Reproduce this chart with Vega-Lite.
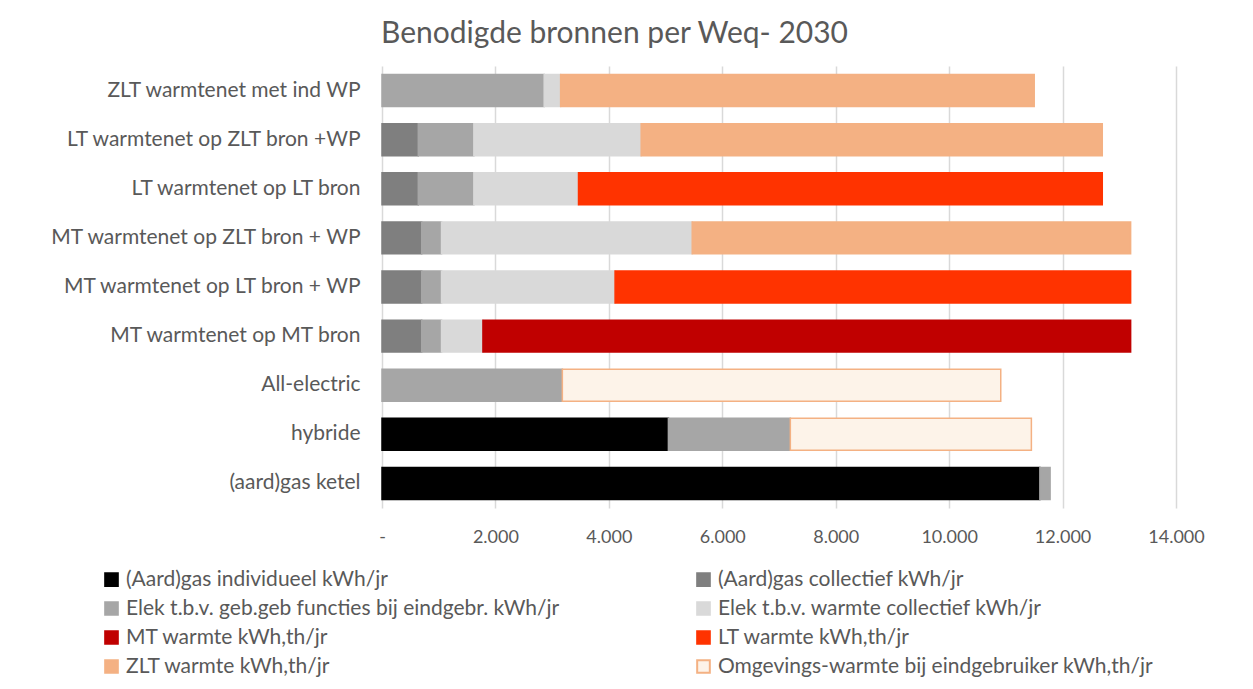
{
  "$schema": "https://vega.github.io/schema/vega-lite/v6.json",
  "autosize": {"type": "none"},
  "padding": {"left": 382, "top": 66, "right": 77, "bottom": 181},
  "width": 794,
  "height": 442,
  "background": "white",
  "title": {
    "text": "Benodigde bronnen per Weq- 2030",
    "frame": "bounds",
    "anchor": "middle",
    "fontSize": 30,
    "font": "Lato",
    "fontWeight": "normal",
    "color": "#595959",
    "offset": 17,
    "dx": -12
  },
  "data": {
    "values": [
      {"variant": "ZLT warmtenet met ind WP", "bron": "Elek t.b.v. geb.geb functies bij eindgebr. kWh/jr", "kwh": 2860},
      {"variant": "ZLT warmtenet met ind WP", "bron": "Elek t.b.v. warmte collectief kWh/jr", "kwh": 290},
      {"variant": "ZLT warmtenet met ind WP", "bron": "ZLT warmte kWh,th/jr", "kwh": 8350},
      {"variant": "LT warmtenet op ZLT bron +WP", "bron": "(Aard)gas collectief kWh/jr", "kwh": 640},
      {"variant": "LT warmtenet op ZLT bron +WP", "bron": "Elek t.b.v. geb.geb functies bij eindgebr. kWh/jr", "kwh": 980},
      {"variant": "LT warmtenet op ZLT bron +WP", "bron": "Elek t.b.v. warmte collectief kWh/jr", "kwh": 2950},
      {"variant": "LT warmtenet op ZLT bron +WP", "bron": "ZLT warmte kWh,th/jr", "kwh": 8130},
      {"variant": "LT warmtenet op LT bron", "bron": "(Aard)gas collectief kWh/jr", "kwh": 640},
      {"variant": "LT warmtenet op LT bron", "bron": "Elek t.b.v. geb.geb functies bij eindgebr. kWh/jr", "kwh": 980},
      {"variant": "LT warmtenet op LT bron", "bron": "Elek t.b.v. warmte collectief kWh/jr", "kwh": 1845},
      {"variant": "LT warmtenet op LT bron", "bron": "LT warmte kWh,th/jr", "kwh": 9235},
      {"variant": "MT warmtenet op ZLT bron + WP", "bron": "(Aard)gas collectief kWh/jr", "kwh": 700},
      {"variant": "MT warmtenet op ZLT bron + WP", "bron": "Elek t.b.v. geb.geb functies bij eindgebr. kWh/jr", "kwh": 350},
      {"variant": "MT warmtenet op ZLT bron + WP", "bron": "Elek t.b.v. warmte collectief kWh/jr", "kwh": 4420},
      {"variant": "MT warmtenet op ZLT bron + WP", "bron": "ZLT warmte kWh,th/jr", "kwh": 7730},
      {"variant": "MT warmtenet op LT bron + WP", "bron": "(Aard)gas collectief kWh/jr", "kwh": 700},
      {"variant": "MT warmtenet op LT bron + WP", "bron": "Elek t.b.v. geb.geb functies bij eindgebr. kWh/jr", "kwh": 350},
      {"variant": "MT warmtenet op LT bron + WP", "bron": "Elek t.b.v. warmte collectief kWh/jr", "kwh": 3060},
      {"variant": "MT warmtenet op LT bron + WP", "bron": "LT warmte kWh,th/jr", "kwh": 9090},
      {"variant": "MT warmtenet op MT bron", "bron": "(Aard)gas collectief kWh/jr", "kwh": 700},
      {"variant": "MT warmtenet op MT bron", "bron": "Elek t.b.v. geb.geb functies bij eindgebr. kWh/jr", "kwh": 350},
      {"variant": "MT warmtenet op MT bron", "bron": "Elek t.b.v. warmte collectief kWh/jr", "kwh": 730},
      {"variant": "MT warmtenet op MT bron", "bron": "MT warmte kWh,th/jr", "kwh": 11420},
      {"variant": "All-electric", "bron": "Elek t.b.v. geb.geb functies bij eindgebr. kWh/jr", "kwh": 3180},
      {"variant": "All-electric", "bron": "Omgevings-warmte bij eindgebruiker kWh,th/jr", "kwh": 7730},
      {"variant": "hybride", "bron": "(Aard)gas individueel kWh/jr", "kwh": 5050},
      {"variant": "hybride", "bron": "Elek t.b.v. geb.geb functies bij eindgebr. kWh/jr", "kwh": 2150},
      {"variant": "hybride", "bron": "Omgevings-warmte bij eindgebruiker kWh,th/jr", "kwh": 4250},
      {"variant": "(aard)gas ketel", "bron": "(Aard)gas individueel kWh/jr", "kwh": 11600},
      {"variant": "(aard)gas ketel", "bron": "Elek t.b.v. geb.geb functies bij eindgebr. kWh/jr", "kwh": 180}
    ]
  },
  "mark": {"type": "bar", "strokeWidth": 1.5},
  "encoding": {
    "y": {
      "field": "variant",
      "type": "nominal",
      "sort": ["ZLT warmtenet met ind WP", "LT warmtenet op ZLT bron +WP", "LT warmtenet op LT bron", "MT warmtenet op ZLT bron + WP", "MT warmtenet op LT bron + WP", "MT warmtenet op MT bron", "All-electric", "hybride", "(aard)gas ketel"],
      "scale": {"paddingInner": 0.35, "paddingOuter": 0.175},
      "axis": {
        "title": null,
        "domain": false,
        "ticks": false,
        "labelFont": "Lato",
        "labelFontSize": 21,
        "labelColor": "#595959",
        "labelPadding": 22,
        "labelLimit": 400
      }
    },
    "x": {
      "field": "kwh",
      "type": "quantitative",
      "stack": "zero",
      "scale": {"domain": [0, 14000], "nice": false},
      "axis": {
        "title": null,
        "values": [0, 2000, 4000, 6000, 8000, 10000, 12000, 14000],
        "labelExpr": "datum.value == 0 ? '-' : replace(format(datum.value, ','), ',', '.')",
        "labelFlush": false,
        "labelOverlap": false,
        "domain": false,
        "ticks": false,
        "grid": true,
        "gridColor": "#d9d9d9",
        "gridWidth": 1.5,
        "labelFont": "Lato",
        "labelFontSize": 18,
        "labelColor": "#595959",
        "labelPadding": 20
      }
    },
    "fill": {
      "field": "bron",
      "type": "nominal",
      "scale": {
        "domain": ["(Aard)gas individueel kWh/jr", "(Aard)gas collectief kWh/jr", "Elek t.b.v. geb.geb functies bij eindgebr. kWh/jr", "Elek t.b.v. warmte collectief kWh/jr", "MT warmte kWh,th/jr", "LT warmte kWh,th/jr", "ZLT warmte kWh,th/jr", "Omgevings-warmte bij eindgebruiker kWh,th/jr"],
        "range": ["#000000", "#7f7f7f", "#a6a6a6", "#d9d9d9", "#c00000", "#ff3300", "#f4b183", "#fdf3e9"]
      },
      "legend": {
        "title": null,
        "orient": "none",
        "legendX": -281,
        "legendY": 503,
        "direction": "horizontal",
        "columns": 2,
        "columnPadding": 133,
        "rowPadding": 7,
        "symbolType": "square",
        "symbolSize": 160,
        "symbolStrokeWidth": 2,
        "labelFont": "Lato",
        "labelFontSize": 21,
        "labelColor": "#595959",
        "labelLimit": 700,
        "labelOffset": 4
      }
    },
    "stroke": {
      "field": "bron",
      "type": "nominal",
      "scale": {
        "domain": ["(Aard)gas individueel kWh/jr", "(Aard)gas collectief kWh/jr", "Elek t.b.v. geb.geb functies bij eindgebr. kWh/jr", "Elek t.b.v. warmte collectief kWh/jr", "MT warmte kWh,th/jr", "LT warmte kWh,th/jr", "ZLT warmte kWh,th/jr", "Omgevings-warmte bij eindgebruiker kWh,th/jr"],
        "range": ["#000000", "#7f7f7f", "#a6a6a6", "#d9d9d9", "#c00000", "#ff3300", "#f4b183", "#f4b183"]
      },
      "legend": null
    }
  },
  "config": {"view": {"stroke": null}}
}
